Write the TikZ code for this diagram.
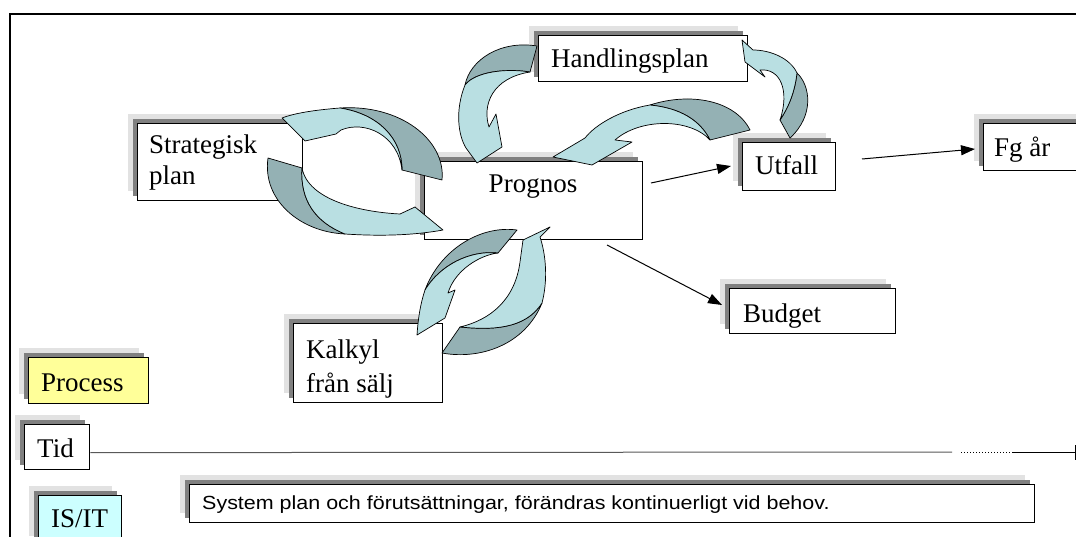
\documentclass[tikz,border=0pt]{standalone}
\usepackage{fontspec}
\setmainfont{Liberation Serif}
\newfontfamily\arialfont{Liberation Sans}
\usetikzlibrary{arrows.meta}
\definecolor{shlight}{RGB}{226,226,226}
\definecolor{shdark}{RGB}{128,128,128}
\definecolor{ribbonlight}{RGB}{185,223,226}
\definecolor{ribbondark}{RGB}{148,177,180}
\definecolor{procfill}{RGB}{255,255,153}
\definecolor{itfill}{RGB}{204,255,255}
% a box with its double drop shadow: name, x1, y1, x2, y2, fill
\newcommand\shadedbox[6]{%
  \fill[shlight] ({#2-9},{#3-9}) rectangle ({#4-9},{#5-9});
  \fill[shdark] ({#2-4},{#3-4}) rectangle ({#4-4},{#5-4});
  \node[boxst, fill=#6, minimum width={#4-#2}, minimum height={#5-#3}] (#1) at (#2,#3) {};
}
\begin{document}
\begin{tikzpicture}[x=1pt,y=-1pt,
  boxst/.style={draw=black, line width=1.3pt, inner sep=0pt, anchor=north west},
  lbl/.style={anchor=base west, inner sep=0pt, font=\fontsize{27}{31}\selectfont, align=left},
  conn/.style={draw=black, line width=1pt, -{Triangle[length=14pt,width=10pt]}},
  darkrib/.style={fill=ribbondark, draw=black, line width=0.7pt, line join=round},
  lightrib/.style={fill=ribbonlight, draw=black, line width=0.7pt, line join=round},
  frame/.style={draw=black, line width=1.3pt}]
\useasboundingbox (0,0) rectangle (1076,537);
\clip (0,0) rectangle (1076,537);
\fill[white] (0,0) rectangle (1076,537);

% outer frame
\coordinate (fr1) at (10,537);
\coordinate (fr2) at (10,14);
\coordinate (fr3) at (1080,14);
\draw[frame] (fr1) -- (fr2) -- (fr3);

% boxes
\shadedbox{strat}{137}{123}{302}{200}{white}
\shadedbox{prognos}{424}{161}{642}{239}{white}
\shadedbox{handl}{538}{35}{747}{81}{white}
\shadedbox{utfall}{742}{142}{835}{190}{white}
\shadedbox{fgar}{983}{123}{1090}{170}{white}
\shadedbox{budget}{729}{288}{895}{333}{white}
\shadedbox{kalkyl}{293}{323}{442}{402}{white}
\shadedbox{process}{28}{357}{148}{403}{procfill}
\shadedbox{tid}{24}{424}{89}{469}{white}
\shadedbox{isit}{38}{495}{121}{545}{itfill}
\shadedbox{sysplan}{189}{484}{1034}{522}{white}

% texts (the base of a two-line label is its last line)
\node[lbl] (strat-t) at (149,185) {Strategisk\\plan};
\node[lbl, anchor=base] (prognos-t) at (533,193) {Prognos};
\node[lbl] (handl-t) at (551,68) {Handlingsplan};
\node[lbl] (utfall-t) at (755,175) {Utfall};
\node[lbl] (fgar-t) at (994,157) {Fg år};
\node[lbl] (budget-t) at (743,322) {Budget};
\node[lbl, font=\fontsize{27}{34}\selectfont] (kalkyl-t) at (306,392) {Kalkyl\\från sälj};
\node[lbl] (process-t) at (41,391) {Process};
\node[lbl] (tid-t) at (37,457) {Tid};
\node[lbl] (isit-t) at (51,527) {IS/IT};
\node[lbl, font=\arialfont\fontsize{19}{22}\selectfont] (sysplan-t) at (202,509)
  {\scalebox{1.13}[1]{System plan och förutsättningar, förändras kontinuerligt vid behov.}};

% time line
\coordinate (tl1) at (952,452);
\coordinate (tl2) at (961,452);
\coordinate (tl3) at (1013,452);
\coordinate (tl4) at (1075,452);
\coordinate (tk1) at (1075,445);
\coordinate (tk2) at (1075,460);
\draw[draw=black!65, line width=1pt] (tid.east) ++(0,5.5) -- (tl1);
\draw[black, line width=1pt, dotted] (tl2) -- (tl3);
\draw[black, line width=1pt] (tl3) -- (tl4);
\draw[black, line width=1pt] (tk1) -- (tk2);

% straight connectors
\coordinate (c1) at (651,183);
\coordinate (c2) at (731,166);
\coordinate (c3) at (862,159);
\coordinate (c4) at (975,149);
\coordinate (c5) at (607,245);
\coordinate (c6) at (722,305);
\draw[conn] (c1) -- (c2);
\draw[conn] (c3) -- (c4);
\draw[conn] (c5) -- (c6);

% curved ribbon arrows: dark back face first, then the light front face
% Strategisk plan -> Prognos (upper)
\filldraw[darkrib] (442,180) .. controls (446,140) and (400,104) .. (340,108)
  .. controls (378,114) and (402,138) .. (402,170) -- cycle;
\filldraw[lightrib] (402,170) .. controls (402,138) and (378,114) .. (340,108)
  .. controls (315,110) and (295,113) .. (282,118) -- (305,141) -- (336,134) -- (341,130)
  .. controls (365,120) and (398,135) .. (402,170) -- cycle;
% Prognos -> Strategisk plan (lower)
\filldraw[darkrib] (268,158) .. controls (262,200) and (300,232) .. (345,234)
  .. controls (315,222) and (300,200) .. (302,168) -- cycle;
\filldraw[lightrib] (302,168) .. controls (300,200) and (315,222) .. (345,234)
  .. controls (375,236) and (410,236) .. (443,230) -- (415,207) -- (400,214)
  .. controls (360,212) and (308,200) .. (302,168) -- cycle;
% Handlingsplan -> Prognos
\filldraw[darkrib] (537,46) .. controls (500,40) and (470,60) .. (465,85)
  .. controls (475,72) and (505,68) .. (530,72) -- cycle;
\filldraw[lightrib] (530,72) .. controls (505,68) and (475,72) .. (465,85)
  .. controls (455,110) and (458,135) .. (466,148) -- (477,163) -- (502,147) -- (496,114) -- (489,127)
  .. controls (482,105) and (492,78) .. (530,72) -- cycle;
% Utfall -> Prognos
\filldraw[darkrib] (750,130) .. controls (735,100) and (690,92) .. (650,105)
  .. controls (680,108) and (700,120) .. (710,140) -- cycle;
\filldraw[lightrib] (710,140) .. controls (700,120) and (680,108) .. (650,105)
  .. controls (620,110) and (595,125) .. (585,138) -- (553,157) -- (592,165) -- (632,142) -- (615,140)
  .. controls (640,118) and (690,118) .. (710,140) -- cycle;
% Utfall -> Handlingsplan
\filldraw[darkrib] (790,138) .. controls (815,115) and (810,85) .. (797,73)
  .. controls (795,90) and (790,105) .. (780,120) -- cycle;
\filldraw[lightrib] (780,120) .. controls (790,105) and (795,90) .. (797,73)
  .. controls (790,58) and (770,50) .. (753,50) -- (742,40) -- (745,62) -- (765,77) -- (760,70)
  .. controls (780,68) and (790,90) .. (780,120) -- cycle;
% Prognos -> Kalkyl
\filldraw[darkrib] (517,230) .. controls (480,225) and (440,250) .. (425,290)
  .. controls (440,265) and (470,250) .. (498,253) -- cycle;
\filldraw[lightrib] (498,253) .. controls (470,250) and (440,265) .. (425,290)
  .. controls (420,305) and (418,320) .. (417,335) -- (445,318) -- (455,290) -- (448,293)
  .. controls (455,270) and (480,255) .. (498,253) -- cycle;
% Kalkyl -> Prognos
\filldraw[darkrib] (442,353) .. controls (480,360) and (525,345) .. (542,303)
  .. controls (525,330) and (490,330) .. (460,327) -- cycle;
\filldraw[lightrib] (460,327) .. controls (490,330) and (525,330) .. (542,303)
  .. controls (548,280) and (546,255) .. (540,237) -- (550,227) -- (523,240) -- (520,262)
  .. controls (515,300) and (490,320) .. (460,327) -- cycle;
\end{tikzpicture}
\end{document}
